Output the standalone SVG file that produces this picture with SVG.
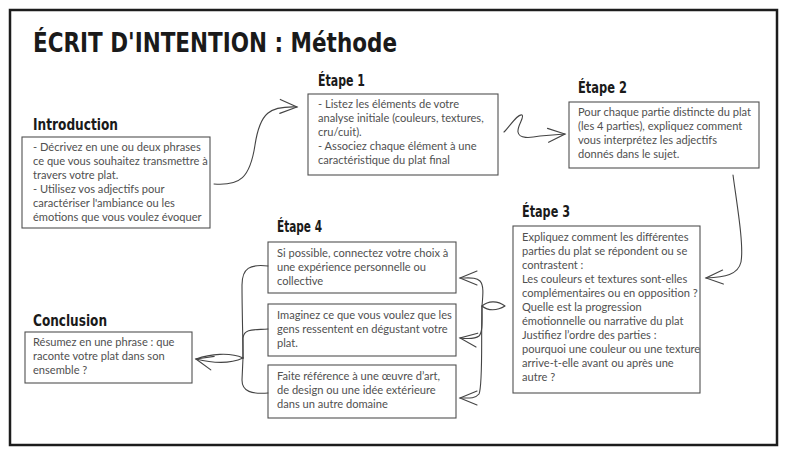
<svg xmlns="http://www.w3.org/2000/svg" width="787" height="457" viewBox="0 0 787 457">
<style>
.frame{fill:#fff;stroke:#1c1c1c;stroke-width:2.5}
.box{fill:#fff;stroke:#505050;stroke-width:1.1}
.head{font-family:"DejaVu Sans Condensed","DejaVu Sans",sans-serif;font-weight:bold;font-size:15px;fill:#1a1a1a}
.title{font-family:"DejaVu Sans Condensed","DejaVu Sans",sans-serif;font-weight:bold;font-size:27px;fill:#1a1a1a}
.txt{font-family:Lato,"Noto Sans",sans-serif;font-size:11.1px;fill:#505050}
.con{fill:none;stroke:#444;stroke-width:1.1;stroke-linecap:round;stroke-linejoin:round}
</style>
<defs>
<marker id="arr" viewBox="-20 -10 22 20" refX="0" refY="0" markerWidth="22" markerHeight="20" orient="auto" markerUnits="userSpaceOnUse">
<path d="M-17,-7 L0,0 L-17,7" fill="none" stroke="#444" stroke-width="1.1" stroke-linecap="round"/>
</marker>
</defs>
<rect width="787" height="457" fill="#fff"/>
<rect class="frame" x="10" y="10" width="767" height="435"/>
<g id="title">
<text class="title" x="33" y="52" textLength="364" lengthAdjust="spacingAndGlyphs">ÉCRIT D'INTENTION : Méthode</text>
</g>
<g id="intro">
<text class="head" x="33" y="130" textLength="85" lengthAdjust="spacingAndGlyphs">Introduction</text>
<rect class="box" x="22" y="137" width="188" height="91"/>
<text class="txt"><tspan x="33" y="151">- Décrivez en une ou deux phrases</tspan><tspan x="33" y="165">ce que vous souhaitez transmettre à</tspan><tspan x="33" y="179">travers votre plat.</tspan><tspan x="33" y="193">- Utilisez vos adjectifs pour</tspan><tspan x="33" y="207">caractériser l'ambiance ou les</tspan><tspan x="33" y="221">émotions que vous voulez évoquer</tspan></text>
</g>
<g id="etape1">
<text class="head" x="318" y="86" textLength="47" lengthAdjust="spacingAndGlyphs">Étape 1</text>
<rect class="box" x="308" y="94" width="190" height="81"/>
<text class="txt"><tspan x="318" y="108">- Listez les éléments de votre</tspan><tspan x="318" y="122">analyse initiale (couleurs, textures,</tspan><tspan x="318" y="136">cru/cuit).</tspan><tspan x="318" y="150">- Associez chaque élément à une</tspan><tspan x="318" y="164">caractéristique du plat final</tspan></text>
</g>
<g id="etape2">
<text class="head" x="578" y="93" textLength="49" lengthAdjust="spacingAndGlyphs">Étape 2</text>
<rect class="box" x="569" y="102" width="190" height="66"/>
<text class="txt"><tspan x="578" y="116">Pour chaque partie distincte du plat</tspan><tspan x="578" y="130">(les 4 parties), expliquez comment</tspan><tspan x="578" y="144">vous interprétez les adjectifs</tspan><tspan x="578" y="158">donnés dans le sujet.</tspan></text>
</g>
<g id="etape3">
<text class="head" x="522" y="217" textLength="48" lengthAdjust="spacingAndGlyphs">Étape 3</text>
<rect class="box" x="513" y="226" width="187" height="167"/>
<text class="txt"><tspan x="522" y="241">Expliquez comment les différentes</tspan><tspan x="522" y="255">parties du plat se répondent ou se</tspan><tspan x="522" y="269">contrastent :</tspan><tspan x="522" y="283">Les couleurs et textures sont-elles</tspan><tspan x="522" y="297">complémentaires ou en opposition ?</tspan><tspan x="522" y="311">Quelle est la progression</tspan><tspan x="522" y="325">émotionnelle ou narrative du plat</tspan><tspan x="522" y="339">Justifiez l’ordre des parties :</tspan><tspan x="522" y="353">pourquoi une couleur ou une texture</tspan><tspan x="522" y="367">arrive-t-elle avant ou après une</tspan><tspan x="522" y="381">autre ?</tspan></text>
</g>
<g id="etape4">
<text class="head" x="277" y="232" textLength="45" lengthAdjust="spacingAndGlyphs">Étape 4</text>
<g id="etape4a">
<rect class="box" x="268" y="242" width="188" height="51"/>
<text class="txt"><tspan x="277" y="257">Si possible, connectez votre choix à</tspan><tspan x="277" y="271">une expérience personnelle ou</tspan><tspan x="277" y="285">collective</tspan></text>
</g>
<g id="etape4b">
<rect class="box" x="268" y="304" width="188" height="52"/>
<text class="txt"><tspan x="277" y="319">Imaginez ce que vous voulez que les</tspan><tspan x="277" y="333">gens ressentent en dégustant votre</tspan><tspan x="277" y="347">plat.</tspan></text>
</g>
<g id="etape4c">
<rect class="box" x="268" y="365" width="188" height="53"/>
<text class="txt"><tspan x="277" y="380">Faite référence à une œuvre d’art,</tspan><tspan x="277" y="394">de design ou une idée extérieure</tspan><tspan x="277" y="408">dans un autre domaine</tspan></text>
</g>
</g>
<g id="conclusion">
<text class="head" x="33" y="326" textLength="74" lengthAdjust="spacingAndGlyphs">Conclusion</text>
<rect class="box" x="25" y="332" width="167" height="51"/>
<text class="txt"><tspan x="33" y="346">Résumez en une phrase : que</tspan><tspan x="33" y="360">raconte votre plat dans son</tspan><tspan x="33" y="374">ensemble ?</tspan></text>
</g>
<g id="connectors">
<path class="con" marker-end="url(#arr)" d="M214,184 C240,186 250,178 255,145 C260,112 270,106 297,107"/>
<path class="con" marker-end="url(#arr)" d="M504,132 C510,126 518,113 522,115 C525,117 517,126 518,132 C519,139 530,138 540,136 L565,134"/>
<path class="con" marker-end="url(#arr)" d="M733,175 C737,205 744,245 741,262 C738,275 725,277 706,278"/>
<path class="con" d="M505,306 C497,300 488,301 482,306 C488,311 497,311 505,306"/>
<path class="con" marker-end="url(#arr)" d="M482,306 C483,295 484,285 480,281 C476,277 470,278 460,278"/>
<path class="con" marker-end="url(#arr)" d="M482,306 C482,320 483,332 479,336 C475,339 468,339 460,338"/>
<path class="con" marker-end="url(#arr)" d="M482,306 C481,340 483,385 479,394 C475,399 468,398 460,398"/>
<path class="con" d="M268,266 C250,264 242,268 242,285 C242,310 243,340 243,358"/>
<path class="con" d="M268,329 C255,330 244,328 243,338 L243,358"/>
<path class="con" d="M268,393 C252,394 242,392 242,380 L243,358"/>
<path class="con" d="M243,358 C230,352 210,354 196,359"/>
<path class="con" marker-end="url(#arr)" d="M243,358 C230,364 212,363 196,359"/>
</g>
</svg>
